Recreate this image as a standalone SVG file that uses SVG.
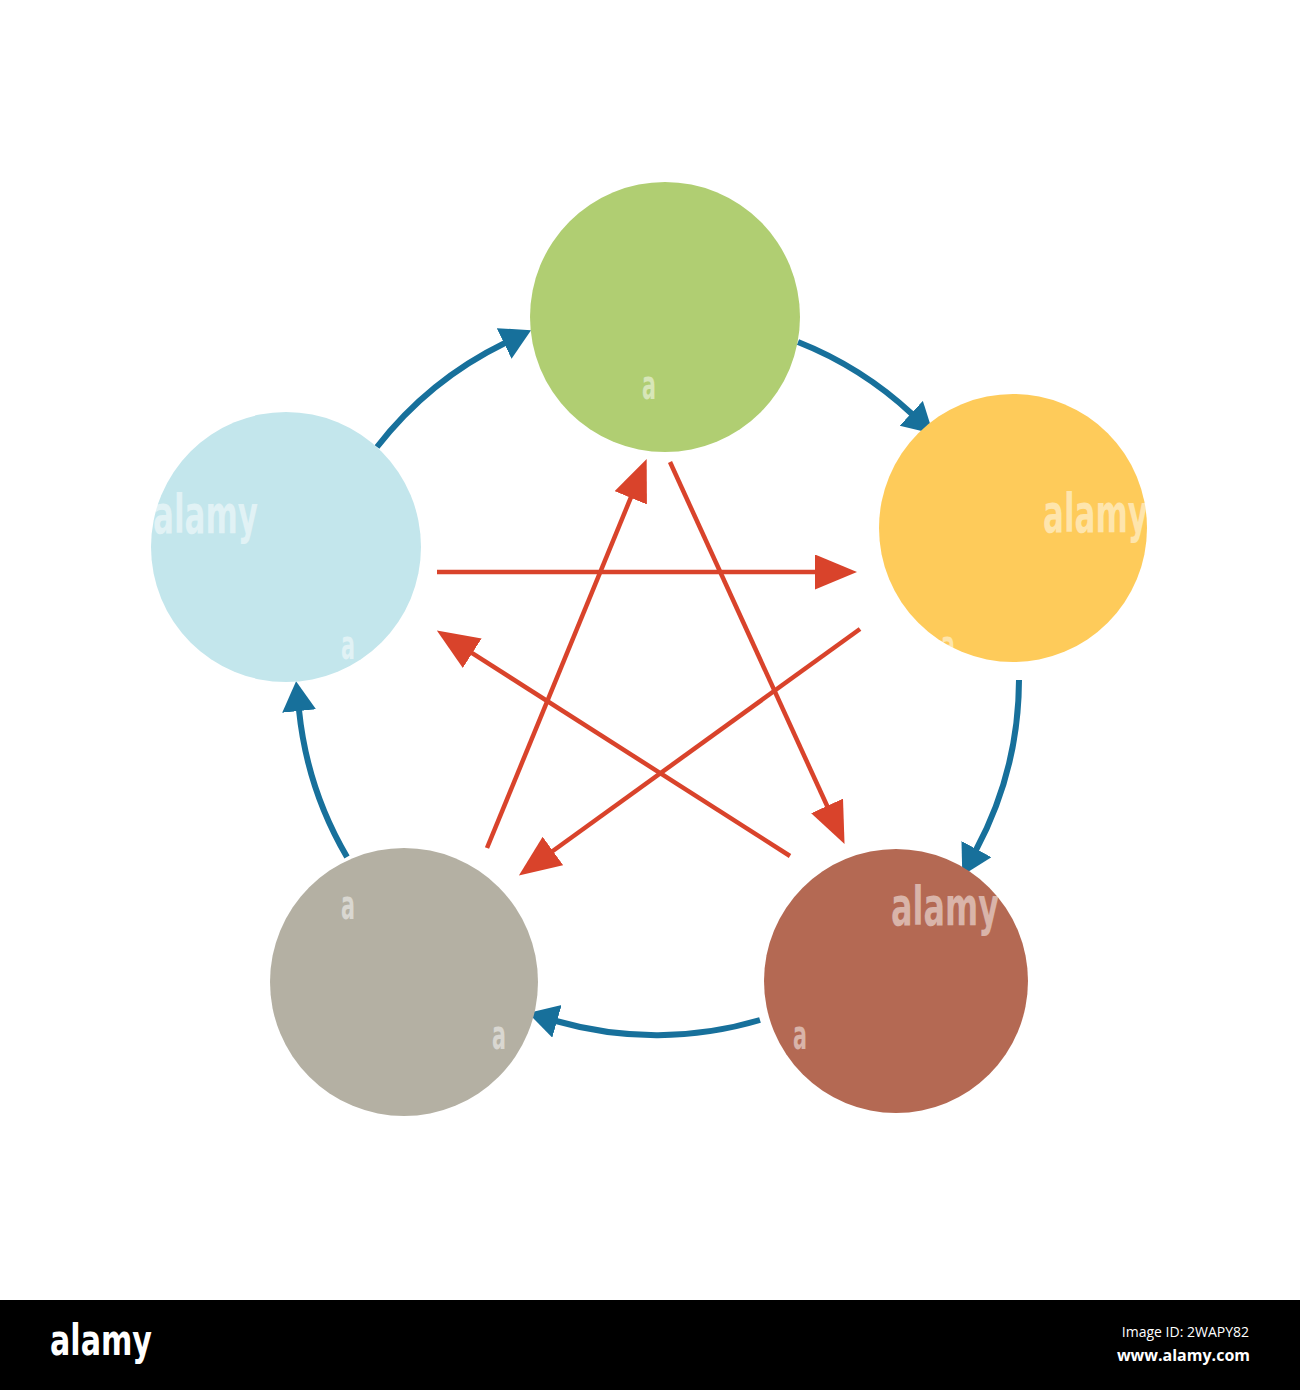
<svg xmlns="http://www.w3.org/2000/svg" width="1300" height="1390" viewBox="0 0 1300 1390">
<style>
.blue{fill:none;stroke:#17709b;stroke-width:6;marker-end:url(#ab)}
.red{fill:none;stroke:#d9432b;stroke-width:4.5;marker-end:url(#ar)}
.wm{font-family:"DejaVu Sans Condensed","Liberation Sans",sans-serif;font-weight:bold;fill:#ffffff;fill-opacity:0.5}
.ft{font-family:"Open Sans","Noto Sans",sans-serif;fill:#ffffff}
</style>
<defs>
<marker id="ab" markerUnits="userSpaceOnUse" markerWidth="32" markerHeight="36" refX="1" refY="17" orient="auto" viewBox="0 0 32 36">
<path d="M0,0 L30,17 L0,34 z" fill="#17709b"/>
</marker>
<marker id="ar" markerUnits="userSpaceOnUse" markerWidth="44" markerHeight="36" refX="1" refY="17.5" orient="auto" viewBox="0 0 44 36">
<path d="M0,0 L42,17.5 L0,35 z" fill="#d9432b"/>
</marker>
</defs>
<rect width="1300" height="1390" fill="#ffffff"/>
<g id="connectors">
<path class="blue" d="M377,447 A363,363 0 0 1 505,343"/>
<path class="blue" d="M798,342 A363,363 0 0 1 912,414"/>
<path class="blue" d="M1019,680 A363,363 0 0 1 976,850"/>
<path class="blue" d="M760,1020 A363,363 0 0 1 556,1021"/>
<path class="blue" d="M347,857 A363,363 0 0 1 299,710"/>
<path class="red" d="M437,572 L816,572"/>
<path class="red" d="M790,856 L471.4,652.6"/>
<path class="red" d="M487,848 L631.1,496.9"/>
<path class="red" d="M670,462 L827.5,806.8"/>
<path class="red" d="M860,629 L552.1,851.5"/>
</g>
<g id="node-green"><circle cx="665" cy="317" r="135" fill="#b0ce72"/></g>
<g id="node-yellow"><circle cx="1013" cy="528" r="134" fill="#fecb5a"/></g>
<g id="node-brown"><circle cx="896" cy="981" r="132" fill="#b46953"/></g>
<g id="node-grey"><circle cx="404" cy="982" r="134" fill="#b4b0a3"/></g>
<g id="node-lightblue"><circle cx="286" cy="547" r="135" fill="#c3e6ec"/></g>
<g id="watermark">
<text class="wm" x="153" y="533" font-size="54" textLength="105" lengthAdjust="spacingAndGlyphs">alamy</text>
<text class="wm" x="1043" y="532" font-size="54" textLength="105" lengthAdjust="spacingAndGlyphs">alamy</text>
<text class="wm" x="891" y="925" font-size="54" textLength="108" lengthAdjust="spacingAndGlyphs">alamy</text>
<text class="wm" x="642" y="399" font-size="40" textLength="14" lengthAdjust="spacingAndGlyphs">a</text>
<text class="wm" x="341" y="659" font-size="40" textLength="14" lengthAdjust="spacingAndGlyphs">a</text>
<text class="wm" x="941" y="659" font-size="40" textLength="14" lengthAdjust="spacingAndGlyphs">a</text>
<text class="wm" x="341" y="919" font-size="40" textLength="14" lengthAdjust="spacingAndGlyphs">a</text>
<text class="wm" x="492" y="1049" font-size="40" textLength="14" lengthAdjust="spacingAndGlyphs">a</text>
<text class="wm" x="793" y="1049" font-size="40" textLength="14" lengthAdjust="spacingAndGlyphs">a</text>
</g>
<g id="footer">
<rect x="0" y="1300" width="1300" height="90" fill="#000000"/>
<text x="50" y="1355" font-family="DejaVu Sans Condensed, Liberation Sans, sans-serif" font-weight="bold" font-size="42" fill="#ffffff" textLength="102" lengthAdjust="spacingAndGlyphs">alamy</text>
<text class="ft" x="1249" y="1337" font-size="14" text-anchor="end">Image ID: 2WAPY82</text>
<text class="ft" x="1250" y="1361" font-size="16" font-weight="bold" text-anchor="end">www.alamy.com</text>
</g>
</svg>
